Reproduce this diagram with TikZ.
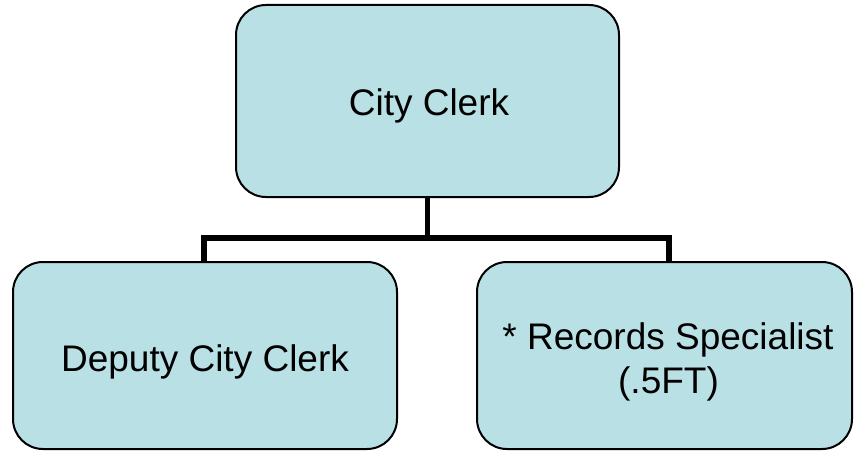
\documentclass[tikz,border=0pt]{standalone}
\usepackage{fontspec}
\setmainfont{Liberation Sans}
\usetikzlibrary{backgrounds}
\definecolor{boxfill}{RGB}{185,224,228}
\begin{document}
\begin{tikzpicture}[x=1pt,y=-1pt,
  box/.style={draw=black, line width=2pt, fill=boxfill, rounded corners=30pt, inner sep=0pt},
  conn/.style={draw=black, line width=5.5pt, line join=miter},
  lbl/.style={font=\fontsize{37}{44}\selectfont, inner sep=0pt, anchor=base}]
\useasboundingbox (0,0) rectangle (854,452);
% boxes
\node[box, minimum width=383pt, minimum height=192pt] (clerk) at (427.5,101) {};
\node[box, minimum width=384pt, minimum height=187pt] (deputy) at (205,355.5) {};
\node[box, minimum width=375pt, minimum height=187pt] (records) at (664.5,355.5) {};
% bus line junctions
\coordinate (jl) at (204,238);
\coordinate (jr) at (669,238);
% connectors, behind the boxes
\begin{scope}[on background layer]
\draw[conn] (clerk.south) -- (clerk.south |- jl);
\draw[conn] (deputy.north -| jl) -- (jl) -- (jr) -- (records.north -| jr);
\end{scope}
% labels
\node[lbl] (clerkt) at (429,115.7) {City Clerk};
\node[lbl] (deputyt) at (205,371.7) {Deputy City Clerk};
\node[lbl] (recordst1) at (668,349) {* Records Specialist};
\node[lbl] (recordst2) at (668.5,393.3) {(.5FT)};
\end{tikzpicture}
\end{document}
